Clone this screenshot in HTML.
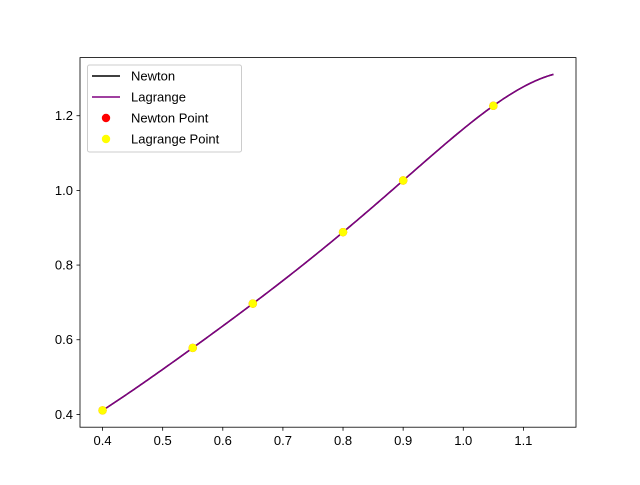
<!DOCTYPE html>
<html><head><meta charset="utf-8"><style>
body{margin:0;background:#fff}
svg text{font-family:"Liberation Sans","DejaVu Sans",sans-serif;font-size:13px;fill:#000}
</style></head><body>
<svg id="chart" width="640" height="480" xmlns="http://www.w3.org/2000/svg"></svg>
<script>
const xPoints = [0.4, 0.55, 0.65, 0.8, 0.9, 1.05];
const yPoints = [0.41075, 0.57815, 0.69675, 0.88811, 1.02652, 1.2266];
const xTicks = [0.4, 0.5, 0.6, 0.7, 0.8, 0.9, 1.0, 1.1];
const yTicks = [0.4, 0.6, 0.8, 1.0, 1.2];
const xStart = 0.4, xEnd = 1.15;

const NS = "http://www.w3.org/2000/svg";
const svg = document.getElementById('chart');
function mk(tag, attrs, parent){const e=document.createElementNS(NS,tag);for(const k in attrs)e.setAttribute(k,attrs[k]);(parent||svg).appendChild(e);return e;}

const n = xPoints.length;
const coef = yPoints.slice();
for(let j=1;j<n;j++)for(let i=n-1;i>=j;i--)coef[i]=(coef[i]-coef[i-1])/(xPoints[i]-xPoints[i-j]);
function newton(x){let r=coef[n-1];for(let i=n-2;i>=0;i--)r=r*(x-xPoints[i])+coef[i];return r;}
function lagrange(x){let s=0;for(let i=0;i<n;i++){let t=yPoints[i];for(let j=0;j<n;j++)if(j!==i)t*=(x-xPoints[j])/(xPoints[i]-xPoints[j]);s+=t;}return s;}

const xs=[];for(let i=0;i<=200;i++)xs.push(xStart+(xEnd-xStart)*i/200);
const ys=xs.map(newton);
const allY=ys.concat(yPoints);
const ymn=Math.min(...allY), ymx=Math.max(...allY), yr=ymx-ymn;
const xr=xEnd-xStart;
const X0=xStart-0.05*xr, X1=xEnd+0.05*xr, Y0=ymn-0.05*yr, Y1=ymx+0.05*yr;
const L=80,R=576,T=57.6,B=427.2;
const sx=v=>L+(v-X0)/(X1-X0)*(R-L);
const sy=v=>B-(v-Y0)/(Y1-Y0)*(B-T);

function line(fn,color,name){
  const d=xs.map((x,i)=>(i?'L':'M')+sx(x).toFixed(2)+','+sy(fn(x)).toFixed(2)).join('');
  const p=mk('path',{d,fill:'none',stroke:color,'stroke-width':1.5});
  
  
}
line(newton,'#000','newton-line');
line(lagrange,'#800080','lagrange-line');
xPoints.forEach((x,i)=>{
  const c=mk('circle',{cx:sx(x),cy:sy(yPoints[i]),r:4.2,fill:'red'});
  
  
});
xPoints.forEach((x,i)=>{
  const c=mk('circle',{cx:sx(x),cy:sy(yPoints[i]),r:4.2,fill:'yellow'});
  
  
});

const frame=mk('rect',{x:L,y:T,width:R-L,height:B-T,fill:'none',stroke:'#000','stroke-width':0.8});



xTicks.forEach(t=>{
  const x=sx(t);
  mk('line',{x1:x,x2:x,y1:B,y2:B+3.5,stroke:'#000','stroke-width':0.8});
  const tx=mk('text',{x:x,y:B+18,'text-anchor':'middle'});tx.textContent=t.toFixed(1);
  
  
});
yTicks.forEach(t=>{
  const y=sy(t);
  mk('line',{x1:L-3.5,x2:L,y1:y,y2:y,stroke:'#000','stroke-width':0.8});
  const tx=mk('text',{x:L-7,y:y+4.5,'text-anchor':'end'});tx.textContent=t.toFixed(1);
  
  
});

const g=mk('g',{});


mk('rect',{x:87.5,y:65,width:154,height:87,rx:2,fill:'#fff','fill-opacity':0.8,stroke:'#ccc','stroke-width':1},g);
const entries=[['line','#000','Newton'],['line','#800080','Lagrange'],['dot','red','Newton Point'],['dot','yellow','Lagrange Point']];
entries.forEach((e,i)=>{
  const y=76+i*21;
  if(e[0]==='line')mk('line',{x1:92,x2:120,y1:y,y2:y,stroke:e[1],'stroke-width':1.5},g);
  else mk('circle',{cx:106,cy:y,r:4.2,fill:e[1]},g);
  const t=mk('text',{x:131,y:y+4.5},g);t.textContent=e[2];
  
  
});
</script>
</body></html>
